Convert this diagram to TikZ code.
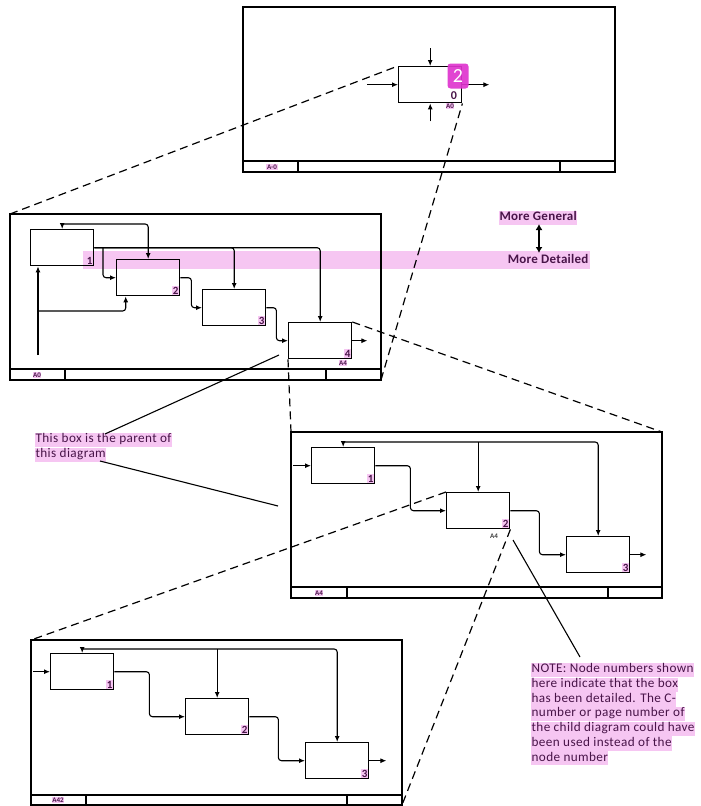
\documentclass[tikz,border=0pt]{standalone}
\usepackage{fontspec}
\setmainfont{Carlito}
\usetikzlibrary{arrows.meta,calc}
\definecolor{hl}{RGB}{246,198,242}
\definecolor{badgecol}{RGB}{222,52,206}
\definecolor{lbl}{RGB}{72,20,72}

\begin{document}
\begin{tikzpicture}[x=1pt,y=-1pt,
  frame/.style={draw,line width=1.6pt},
  act/.style={draw,line width=1.4pt,minimum width=63pt,minimum height=36pt,inner sep=0pt,anchor=north west},
  flow/.style={line width=1.1pt,rounded corners=3pt,-{Latex[length=6pt,width=5pt]}},
  zoomline/.style={line width=1.2pt,dash pattern=on 8pt off 5pt},
  callout/.style={line width=1.1pt},
  num/.style={font=\fontsize{11}{11}\selectfont\bfseries,text=lbl,fill=hl,inner sep=0.8pt,anchor=south east},
  tag/.style={font=\fontsize{7}{7}\selectfont\bfseries,text=lbl,fill=hl,inner sep=0.6pt},
  txt/.style={font=\fontsize{13.2}{14.7}\selectfont\addfontfeatures{LetterSpace=3},text=lbl,fill=hl,inner sep=0.4pt,text height=9.6pt,text depth=3.9pt,anchor=west},
  btxt/.style={txt,font=\fontsize{13}{14}\selectfont\bfseries\addfontfeatures{LetterSpace=2}},
]
\useasboundingbox (0,0) rectangle (701,806);

% ---------- general / detailed band (behind the sheet) ----------
\fill[hl] (83,251) rectangle (590,269);
\node[btxt,anchor=east] (detail) at (589,261) {More Detailed};
\node[btxt] (general) at (499,218) {More General};
\draw[line width=2.3pt,{Latex[length=6pt,width=7pt]}-{Latex[length=6pt,width=7pt]}] (539,224) -- (539,253);

% ---------- context sheet A-0 ----------
\draw[frame] (243,7) rectangle (615,172);
\draw[frame] (243,161) -- (615,161) (298,161) -- (298,172) (560,161) -- (560,172);
\node[tag] at (272,167) {A-0};
\node[act] (t0) at (398,66) {};
\draw[flow] ($(t0.north)+(0,-18)$) -- (t0.north);
\draw[flow] ($(t0.west)+(-31,0)$) -- (t0.west);
\draw[flow] (t0.east) -- ++(27,0);
\draw[flow] ($(t0.south)+(0,18)$) -- (t0.south);
\node[font=\fontsize{12}{12}\selectfont\bfseries,text=lbl,inner sep=0pt] at (454,96) {0};
\node[tag] at (450,106) {A0};
\node[fill=badgecol,fill opacity=0.92,text opacity=1,rounded corners=3pt,minimum width=21pt,minimum height=25pt,inner sep=0pt,text=white,font=\fontsize{20}{20}\selectfont] (badge) at (458,76) {2};

% ---------- sheet A0 ----------
\coordinate (F1nw) at (10,214);
\coordinate (F1se) at (381,380);
\draw[frame] (F1nw) rectangle (F1se);
\draw[frame] (10,369) -- (381,369) (65,369) -- (65,380) (326,369) -- (326,380);
\node[tag] at (37,375) {A0};
\node[act] (a1) at (30,229) {};
\node[act] (a2) at (116,259) {};
\node[act] (a3) at (202,289) {};
\node[act] (a4) at (288,322) {};
\foreach \b/\n in {a1/1,a2/2,a3/3,a4/4}
  \node[num] at ([xshift=-1pt,yshift=1pt]\b.south east) {\n};
\node[tag] at (343,363) {A4};
% feedback into box 1 and control of box 2
\coordinate (fb1) at ($(a1.north)+(0,-5)$);
\draw[flow] (fb1) -- (a1.north);
\draw[flow] (fb1) -| (a2.north);
% outputs of box 1
\draw[flow] (a1.east) -| (a3.north);
\draw[flow] (a1.east) -| (a4.north);
\draw[flow] (a1.east -| 103,0) |- (a2.west);
\draw[flow] (a2.east) -- ++(11,0) |- (a3.west);
\draw[flow] (a3.east) -- ++(10,0) |- (a4.west);
\draw[flow] (a4.east) -- ++(15,0);
% mechanism
\coordinate (m1) at (38,355);
\draw[flow] (m1) -- (m1 |- a1.south);
\draw[flow] (38,311) -| ([xshift=-22.5pt]a2.south);

% ---------- sheet A4 ----------
\coordinate (F2nw) at (291,432);
\coordinate (F2ne) at (662,432);
\draw[frame] (F2nw) rectangle (662,598);
\draw[frame] (291,587) -- (662,587) (347,587) -- (347,598) (608,587) -- (608,598);
\node[tag] at (319,593) {A4};
\node[act] (c1) at (311,447) {};
\node[act] (c2) at (446,492) {};
\node[act] (c3) at (566,536) {};
\foreach \b/\n in {c1/1,c2/2,c3/3}
  \node[num] at ([xshift=-1pt,yshift=1pt]\b.south east) {\n};
\node[font=\fontsize{7}{7}\selectfont\bfseries,text=black!75,inner sep=0pt] at (494,536) {A4};
\coordinate (fb2) at ($(c1.north)+(0,-5)$);
\draw[flow] (fb2) -- (c1.north);
\draw[flow] (fb2) -| (c3.north);
\draw[flow] (fb2 -| c2.north) -- (c2.north);
\draw[flow] ($(c1.west)+(-18,0)$) -- (c1.west);
\draw[flow] (c1.east) -- ++(35,0) |- (c2.west);
\draw[flow] (c2.east) -- ++(29,0) |- (c3.west);
\draw[flow] (c3.east) -- ++(16,0);

% ---------- sheet A42 ----------
\coordinate (F3nw) at (31,640);
\coordinate (F3se) at (402,805);
\draw[frame] (F3nw) rectangle (F3se);
\draw[frame] (31,795) -- (402,795) (86,795) -- (86,805) (347,795) -- (347,805);
\node[tag] at (58,800) {A42};
\node[act] (d1) at (50,653) {};
\node[act] (d2) at (185,698) {};
\node[act] (d3) at (305,742) {};
\foreach \b/\n in {d1/1,d2/2,d3/3}
  \node[num] at ([xshift=-1pt,yshift=1pt]\b.south east) {\n};
\coordinate (fb3) at ($(d1.north)+(0,-4)$);
\draw[flow] (fb3) -- (d1.north);
\draw[flow] (fb3) -| (d3.north);
\draw[flow] (fb3 -| d2.north) -- (d2.north);
\draw[flow] ($(d1.west)+(-17,0)$) -- (d1.west);
\draw[flow] (d1.east) -- ++(35,0) |- (d2.west);
\draw[flow] (d2.east) -- ++(29,0) |- (d3.west);
\draw[flow] (d3.east) -- ++(17,0);

% ---------- decomposition links ----------
\draw[zoomline] (F1nw) -- (t0.north west);
\draw[zoomline] (F1se) -- (t0.south east);
\draw[zoomline] (a4.north east) -- (F2ne);
\draw[zoomline] (a4.south west) -- (F2nw);
\draw[zoomline] (c2.north west) -- (F3nw);
\draw[zoomline] (c2.south east) -- (F3se);

% ---------- annotations ----------
\node[txt] (par1) at (35,440) {This box is the parent of};
\node[txt] (par2) at (35,454.7) {this diagram};
\coordinate (p1) at (279,355);
\coordinate (p2) at (105,434);
\coordinate (p3) at (100,461);
\coordinate (p4) at (278,506);
\draw[callout] (p1) -- (p2);
\draw[callout] (p3) -- (p4);

\foreach \t [count=\i from 0] in {NOTE: Node numbers shown,here indicate that the box,has been detailed. The C-,number or page number of,the child diagram could have,been used instead of the,node number}
  \node[txt] (note\i) at (531,{670+14.7*\i}) {\t};
\coordinate (n1) at (513,540);
\coordinate (n2) at (580,657);
\draw[callout] (n1) -- (n2);
\end{tikzpicture}
\end{document}
